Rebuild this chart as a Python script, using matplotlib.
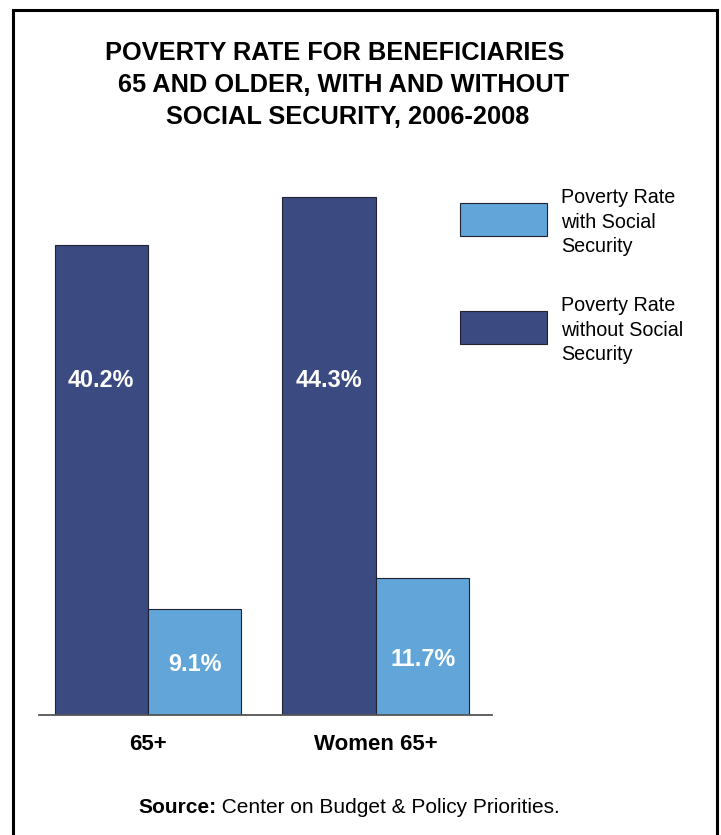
import matplotlib
matplotlib.use("Agg")
import matplotlib.pyplot as plt
from matplotlib.lines import Line2D
from matplotlib.patches import Rectangle

plt.rcParams['font.family'] = ['Liberation Sans', 'DejaVu Sans']

# ---- data ----
categories = ["65+", "Women 65+"]
without_ss = [40.2, 44.3]
with_ss = [9.1, 11.7]
series_names = ["Poverty Rate\nwith Social\nSecurity", "Poverty Rate\nwithout Social\nSecurity"]
title_lines = ["POVERTY RATE FOR BENEFICIARIES",
               "65 AND OLDER, WITH AND WITHOUT",
               "SOCIAL SECURITY, 2006-2008"]
source_bold = "Source:"
source_text = " Center on Budget & Policy Priorities."

DARK = "#3c4a82"
LIGHT = "#62a6d9"
EDGE = "#1e2233"

W, H = 721, 835
fig = plt.figure(figsize=(W / 100, H / 100), dpi=100)

def fx(x):
    return x / W

def fy(y):
    return 1 - y / H

# frame (no bottom edge)
fig.add_artist(Line2D([fx(13.5), fx(13.5), fx(716.5), fx(716.5)],
                      [0, fy(9.5), fy(9.5), 0], lw=2.2, color="black",
                      solid_joinstyle="miter", transform=fig.transFigure))

# axes
ymax = 48
ax = fig.add_axes([fx(39), 120 / H, 453 / W, ymax * 11.69 / H])
ax.set_xlim(-0.478, 1.509)
ax.set_ylim(0, ymax)
bw = 0.41
xs = list(range(len(categories)))
ax.bar([x - bw / 2 for x in xs], without_ss, width=bw, color=DARK,
       edgecolor=EDGE, linewidth=0.8, zorder=2)
ax.bar([x + bw / 2 for x in xs], with_ss, width=bw, color=LIGHT,
       edgecolor=EDGE, linewidth=0.8, zorder=2)

for s in ["top", "right", "left"]:
    ax.spines[s].set_visible(False)
ax.spines["bottom"].set_color("#555555")
ax.spines["bottom"].set_linewidth(1.3)
ax.set_yticks([])
ax.set_xticks(xs)
ax.set_xticklabels(categories, fontsize=16, fontweight="bold")
ax.tick_params(axis="x", length=0, pad=14)

# value labels
for x, v in zip(xs, without_ss):
    ax.text(x - bw / 2, 28.63, f"{v:.1f}%", ha="center", va="center",
            color="white", fontsize=16.8, fontweight="bold", zorder=3)
light_label_y = [4.36, 4.79]
for x, v, ly in zip(xs, with_ss, light_label_y):
    ax.text(x + bw / 2, ly, f"{v:.1f}%", ha="center", va="center",
            color="white", fontsize=16.8, fontweight="bold", zorder=3)

# legend (drawn manually for exact placement)
leg_colors = [LIGHT, DARK]
leg_patch_tops = [203, 311]
leg_text_tops = [188, 296]
for name, col, pt, tt in zip(series_names, leg_colors, leg_patch_tops, leg_text_tops):
    fig.add_artist(Rectangle((fx(460), fy(pt + 33)), 87 / W, 33 / H,
                             facecolor=col, edgecolor=EDGE, linewidth=0.8,
                             transform=fig.transFigure))
    fig.text(fx(561), fy(tt), name, ha="left", va="top", fontsize=14.2,
             linespacing=1.37)

# title
title_centers = [335, 344, 348]
title_baselines = [60, 92, 124]
for t, cx, by in zip(title_lines, title_centers, title_baselines):
    fig.text(fx(cx), fy(by), t, ha="center", va="baseline",
             fontsize=18.3, fontweight="bold")

# source
st = fig.text(fx(138), fy(813), source_bold, ha="left", va="baseline",
              fontsize=15, fontweight="bold")
ax.annotate(source_text, xy=(1, 0), xycoords=st, ha="left", va="bottom",
            fontsize=15, annotation_clip=False)

fig.savefig("out.png", dpi=100)
